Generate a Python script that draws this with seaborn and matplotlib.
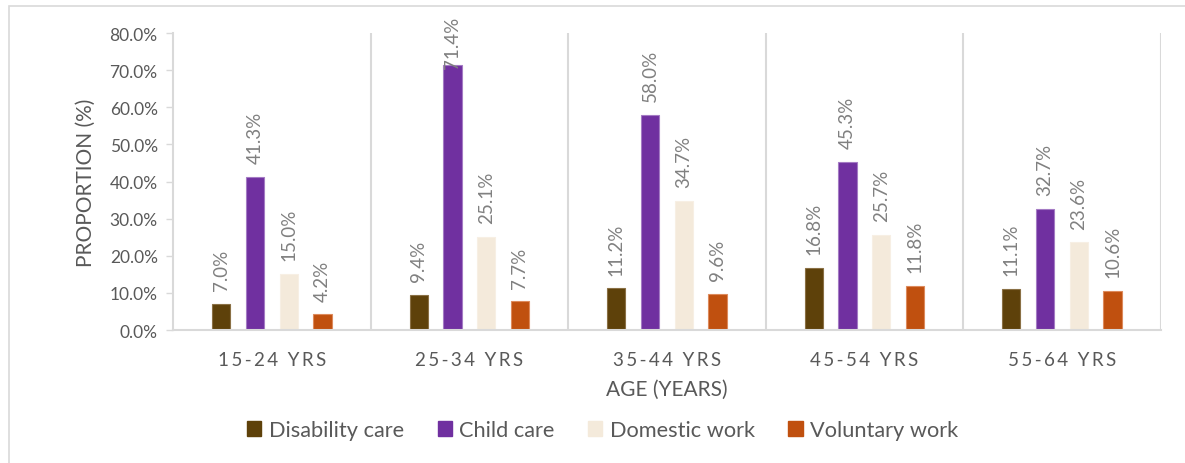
import matplotlib
matplotlib.use("Agg")
import matplotlib.pyplot as plt
import seaborn as sns
import pandas as pd
from matplotlib.patches import Rectangle, Patch

# Age groups and share of people doing each kind of unpaid work (%)
age_groups = ["15-24 YRS", "25-34 YRS", "35-44 YRS", "45-54 YRS", "55-64 YRS"]
activities = ["Disability care", "Child care", "Domestic work", "Voluntary work"]
disability_care = [7.0, 9.4, 11.2, 16.8, 11.1]
child_care = [41.3, 71.4, 58.0, 45.3, 32.7]
domestic_work = [15.0, 25.1, 34.7, 25.7, 23.6]
voluntary_work = [4.2, 7.7, 9.6, 11.8, 10.6]
y_ticks = [0, 10, 20, 30, 40, 50, 60, 70, 80]

palette = {
    "Disability care": "#5e410a",
    "Child care": "#7030a0",
    "Domestic work": "#f4eadb",
    "Voluntary work": "#c0500f",
}
edge_colors = ["#8a7045", "#a47bc4", "#f7efe4", "#dd8a5c"]

df = pd.DataFrame({
    "age": age_groups * 4,
    "activity": [a for a in activities for _ in age_groups],
    "value": disability_care + child_care + domestic_work + voluntary_work,
})

sns.set_theme(style="white")
plt.rcParams["font.family"] = ["Lato", "DejaVu Sans"]
TEXT = "#595959"

fig = plt.figure(figsize=(11.85, 4.64), dpi=100)
ax = fig.add_axes([0.146, 0.2866, 0.8334, 0.6401])

sns.barplot(data=df, x="age", y="value", hue="activity", hue_order=activities,
            order=age_groups, palette=palette, width=0.684, gap=0.46,
            legend=False, ax=ax, saturation=1)

value_labels = []
for container, ec in zip(ax.containers, edge_colors):
    for bar in container:
        bar.set_edgecolor(ec)
        bar.set_linewidth(0.8)
    labels = [f"{v:.1f}%" for v in container.datavalues]
    value_labels += ax.bar_label(container, labels=labels, rotation=90,
                                 padding=10, fontsize=13.5, color="#808080")

ax.set_xlim(-0.5, len(age_groups) - 0.5)
ax.set_ylim(0, 80)
ax.set_yticks(y_ticks)
ax.set_yticklabels([f"{t:.1f}%" for t in y_ticks], fontsize=12.5, color=TEXT)

spaced = ["\u2009".join(list(lbl)) for lbl in age_groups]
ax.set_xticks(range(len(age_groups)))
ax.set_xticklabels(spaced, fontsize=13.5, color=TEXT)

ax.tick_params(axis="y", which="major", left=True, length=5, width=1,
               color="#d9d9d9", pad=6)
ax.tick_params(axis="x", bottom=False, pad=9)

for side in ["top", "right"]:
    ax.spines[side].set_visible(False)
for side in ["left", "bottom"]:
    ax.spines[side].set_color("#d9d9d9")
    ax.spines[side].set_linewidth(1.5)

# vertical separators between age groups
for b in range(1, len(age_groups) + 1):
    ax.axvline(b - 0.5, color="#d9d9d9", linewidth=1.5, zorder=0)

ax.set_xlabel("AGE (YEARS)", fontsize=15, color=TEXT, labelpad=8)
ax.set_ylabel("PROPORTION (%)", fontsize=15, color=TEXT, labelpad=10)

handles = [Patch(facecolor=palette[a], edgecolor=palette[a]) for a in activities]
fig.legend(handles, activities, loc="center", bbox_to_anchor=(0.5085, 0.071),
           ncol=4, frameon=False, fontsize=15.7, handlelength=0.65,
           handleheight=0.65, handletextpad=0.33, columnspacing=1.55,
           labelcolor=TEXT)

# chart area border
fig.patches.append(Rectangle((9 / 1185, -0.1), 1.2, 1 - 7 / 464 + 0.1,
                             transform=fig.transFigure, fill=False,
                             edgecolor="#d9d9d9", linewidth=1.2))

# keep value labels inside the chart area: push tall ones down
fig.canvas.draw()
renderer = fig.canvas.get_renderer()
top_limit = fig.bbox.height - 17
for ann in value_labels:
    bb = ann.get_window_extent(renderer)
    if bb.y1 > top_limit:
        dx, dy = ann.xyann
        ann.xyann = (dx, dy - (bb.y1 - top_limit) * 72 / fig.dpi)

fig.savefig("out.png", dpi=100)
